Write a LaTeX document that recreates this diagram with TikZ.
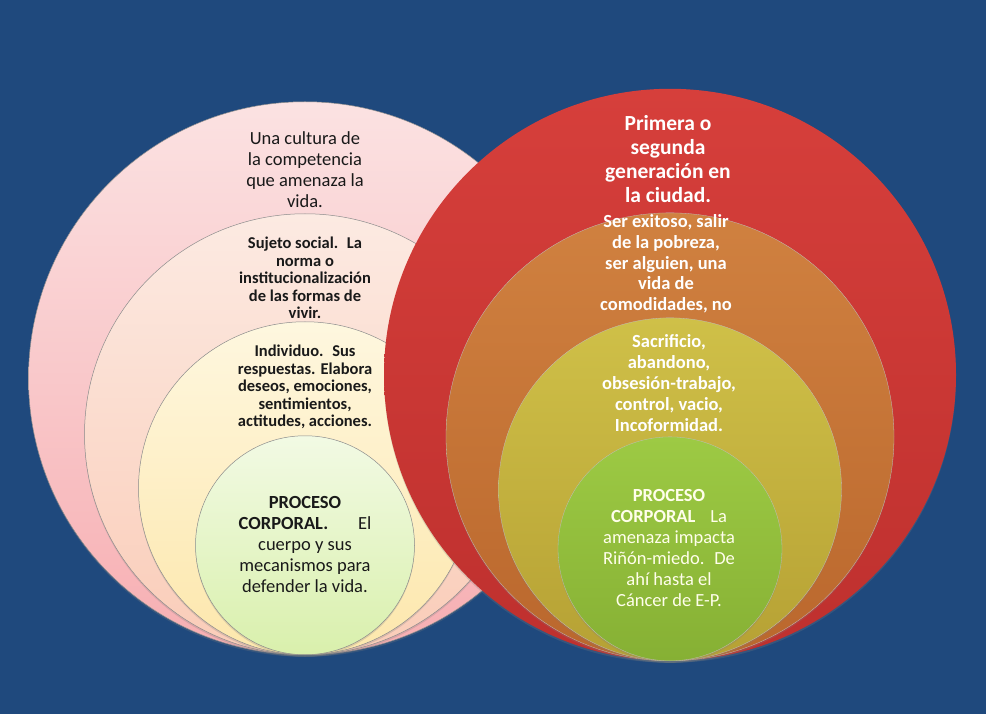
\documentclass[tikz,border=0pt]{standalone}
\usepackage{fontspec}
\setmainfont{Carlito}
\usetikzlibrary{shadows}

\definecolor{fondo}{HTML}{1F497D}
\definecolor{rosaA}{HTML}{FBE2E2}
\definecolor{rosaB}{HTML}{F7AEB2}
\definecolor{durazA}{HTML}{FCEAE2}
\definecolor{durazB}{HTML}{FACCB8}
\definecolor{cremaA}{HTML}{FEF7DF}
\definecolor{cremaB}{HTML}{FDE7AC}
\definecolor{verdeA}{HTML}{F2FAE4}
\definecolor{verdeB}{HTML}{D9F0AC}
\definecolor{rojoA}{HTML}{D63F3B}
\definecolor{rojoB}{HTML}{BE302E}
\definecolor{naranjaA}{HTML}{D08140}
\definecolor{naranjaB}{HTML}{BA672D}
\definecolor{olivaA}{HTML}{CFC048}
\definecolor{olivaB}{HTML}{B6A134}
\definecolor{pastoA}{HTML}{9DCA44}
\definecolor{pastoB}{HTML}{86B034}

\begin{document}
\begin{tikzpicture}[x=1pt, y=-1pt,
  ring/.style={circle, inner sep=0pt, anchor=south,
    drop shadow={shadow xshift=0pt, shadow yshift=-2pt, opacity=0.25}},
  pale ring/.style={ring, draw=black!45, line width=0.5pt},
  warm ring/.style={ring, draw=black!25, line width=0.3pt},
  dark txt/.style={align=center, inner sep=0pt, text=black!90},
  light txt/.style={align=center, inner sep=0pt, text=white}]
  % 背景
  \fill[fondo] (0,0) rectangle (986,714);
  \useasboundingbox (0,0) rectangle (986,714);

  % 左边的圆
  \node[pale ring, minimum size=553pt, top color=rosaA, bottom color=rosaB] (cultura) at (305,655) {};
  \node[pale ring, minimum size=441pt, top color=durazA, bottom color=durazB] (sujeto) at (305,655) {};
  \node[pale ring, minimum size=333pt, top color=cremaA, bottom color=cremaB] (individuo) at (305,655) {};
  \node[pale ring, minimum size=219pt, top color=verdeA, bottom color=verdeB] (cuerpoL) at (305,655) {};

  % 左边的文字
  \node[dark txt, font=\fontsize{18.5}{21}\selectfont] (tcultura) at (305,170)
    {Una cultura de\\la competencia\\que amenaza la\\vida.};
  \node[dark txt, font=\fontsize{16.5}{17.5}\selectfont\bfseries] (tsujeto) at (305,278)
    {Sujeto social.~ La\\norma o\\institucionalización\\de las formas de\\vivir.};
  \node[dark txt, font=\fontsize{16.5}{17.5}\selectfont\bfseries] (tindividuo) at (305,387)
    {Individuo.~ Sus\\respuestas. Elabora\\deseos, emociones,\\sentimientos,\\actitudes, acciones.};
  \node[dark txt, font=\fontsize{18.5}{21}\selectfont] (tcuerpoL) at (305,545)
    {\textbf{PROCESO}\\\textbf{CORPORAL.}\hspace{1.6em}El\\cuerpo y sus\\mecanismos para\\defender la vida.};

  % 右边的圆
  \node[ring, minimum size=572pt, top color=rojoA, bottom color=rojoB] (ciudad) at (670,661) {};
  \node[warm ring, minimum size=448pt, top color=naranjaA, bottom color=naranjaB] (exito) at (670,661) {};
  \node[warm ring, minimum size=343pt, top color=olivaA, bottom color=olivaB] (sacrificio) at (670,661) {};
  \node[warm ring, minimum size=224pt, top color=pastoA, bottom color=pastoB] (cuerpoR) at (670,661) {};

  % 右边的文字
  \node[light txt, font=\fontsize{21.5}{24}\selectfont\bfseries] (tciudad) at (668,159)
    {Primera o\\segunda\\generación en\\la ciudad.};
  \node[light txt, font=\fontsize{18.5}{20.7}\selectfont\bfseries] (texito) at (666,264)
    {Ser exitoso, salir\\de la pobreza,\\ser alguien, una\\vida de\\comodidades, no};
  \node[light txt, font=\fontsize{18.5}{21}\selectfont\bfseries] (tsacrificio) at (669,383)
    {Sacrificio,\\abandono,\\obsesión-trabajo,\\control, vacio,\\Incoformidad.};
  \node[light txt, text=white!92!yellow, font=\fontsize{18.5}{21}\selectfont] (tcuerpoR) at (669,548)
    {\textbf{PROCESO}\\\textbf{CORPORAL}\hspace{0.8em}La\\amenaza impacta\\Riñón-miedo.~ De\\ahí hasta el\\Cáncer de E-P.};
\end{tikzpicture}
\end{document}
